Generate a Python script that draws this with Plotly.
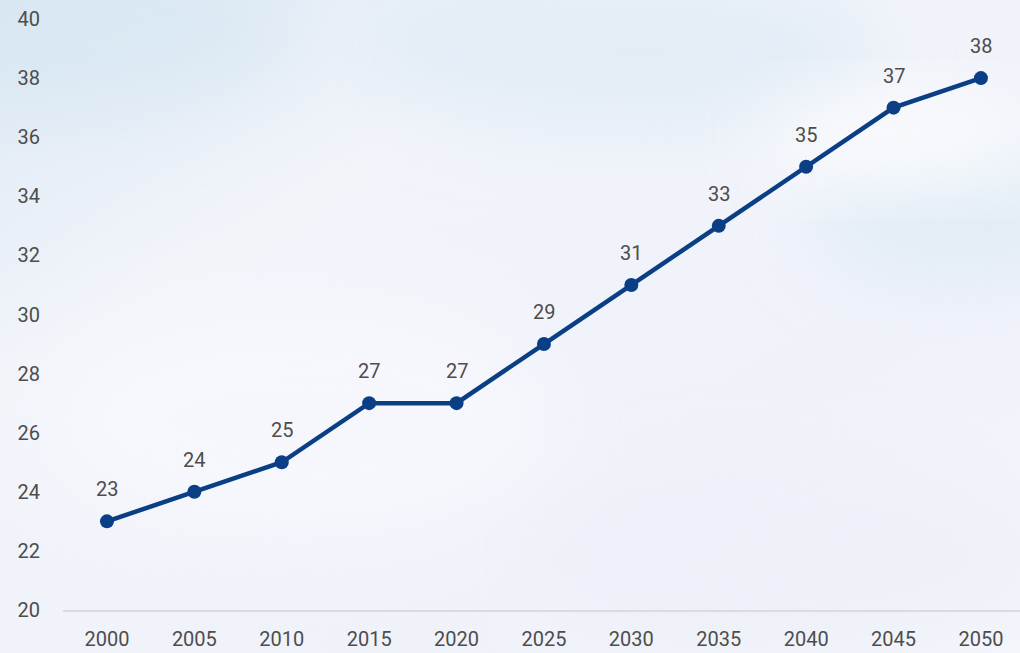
import base64
import plotly.graph_objects as go

years = ["2000", "2005", "2010", "2015", "2020", "2025", "2030", "2035", "2040", "2045", "2050"]
values = [23, 24, 25, 27, 27, 29, 31, 33, 35, 37, 38]
y_ticks = [20, 22, 24, 26, 28, 30, 32, 34, 36, 38, 40]

LINE_COLOR = "#0b3f85"
TEXT_COLOR = "#4d4d4d"
FONT = "Roboto, 'Open Sans', sans-serif"

svg = """<svg xmlns='http://www.w3.org/2000/svg' width='1020' height='653' viewBox='0 0 1020 653'>
<defs>
<linearGradient id='g' x1='0' y1='0' x2='1' y2='1'>
<stop offset='0' stop-color='#dde9f4'/>
<stop offset='0.3' stop-color='#f2f4fa'/>
<stop offset='0.7' stop-color='#f0f2fa'/>
<stop offset='1' stop-color='#f4f6fb'/>
</linearGradient>
<filter id='b' x='-50%' y='-50%' width='200%' height='200%'><feGaussianBlur stdDeviation='40'/></filter>
</defs>
<rect width='1020' height='653' fill='url(#g)'/>
<ellipse cx='620' cy='50' rx='260' ry='80' fill='#d8e8f3' opacity='0.6' filter='url(#b)'/>
<ellipse cx='960' cy='220' rx='150' ry='60' fill='#d6e8f2' opacity='0.6' filter='url(#b)'/>
<ellipse cx='900' cy='140' rx='140' ry='40' fill='#ffffff' opacity='0.8' filter='url(#b)'/>
<ellipse cx='100' cy='30' rx='200' ry='80' fill='#d4e6f2' opacity='0.6' filter='url(#b)'/>
<ellipse cx='300' cy='420' rx='260' ry='120' fill='#f8f9fd' opacity='0.7' filter='url(#b)'/>
<ellipse cx='800' cy='560' rx='260' ry='90' fill='#eceff8' opacity='0.7' filter='url(#b)'/>
</svg>"""
bg_uri = "data:image/svg+xml;base64," + base64.b64encode(svg.encode()).decode()

fig = go.Figure()
fig.add_trace(go.Scatter(
    x=years, y=values,
    mode="lines+markers",
    line=dict(color=LINE_COLOR, width=4.5),
    marker=dict(color=LINE_COLOR, size=14),
    cliponaxis=False,
    hoverinfo="x+y",
))

for i, v in enumerate(values):
    fig.add_annotation(
        x=i, y=v, xref="x", yref="y", text=str(v), showarrow=False,
        yshift=32, yanchor="middle", xanchor="center",
        font=dict(family=FONT, size=20, color=TEXT_COLOR),
    )

fig.update_layout(
    width=1020, height=653,
    margin=dict(l=63, r=0, t=19, b=43),
    paper_bgcolor="#f0f3f9",
    plot_bgcolor="rgba(0,0,0,0)",
    showlegend=False,
    font=dict(family=FONT, size=20, color=TEXT_COLOR),
    images=[dict(source=bg_uri, xref="paper", yref="paper", x=-63/957, y=1 + 19/591,
                 sizex=1020/957, sizey=653/591, xanchor="left", yanchor="top",
                 sizing="stretch", layer="below")],
    xaxis=dict(
        type="category",
        range=[-0.503, 10.447],
        showgrid=False,
        showline=True, linecolor="#d9dbe0", linewidth=1.5,
        ticks="", ticklabelstandoff=10,
        tickfont=dict(family=FONT, size=20, color=TEXT_COLOR),
        zeroline=False,
    ),
    yaxis=dict(
        range=[20, 40],
        tickvals=y_ticks,
        showgrid=False, zeroline=False, showline=False,
        ticks="", ticklabelstandoff=22,
        tickfont=dict(family=FONT, size=20, color=TEXT_COLOR),
    ),
)

fig.write_html("out.html",
               config={"displayModeBar": False},
               post_script="document.body.style.margin='0';document.body.style.overflow='hidden';")
